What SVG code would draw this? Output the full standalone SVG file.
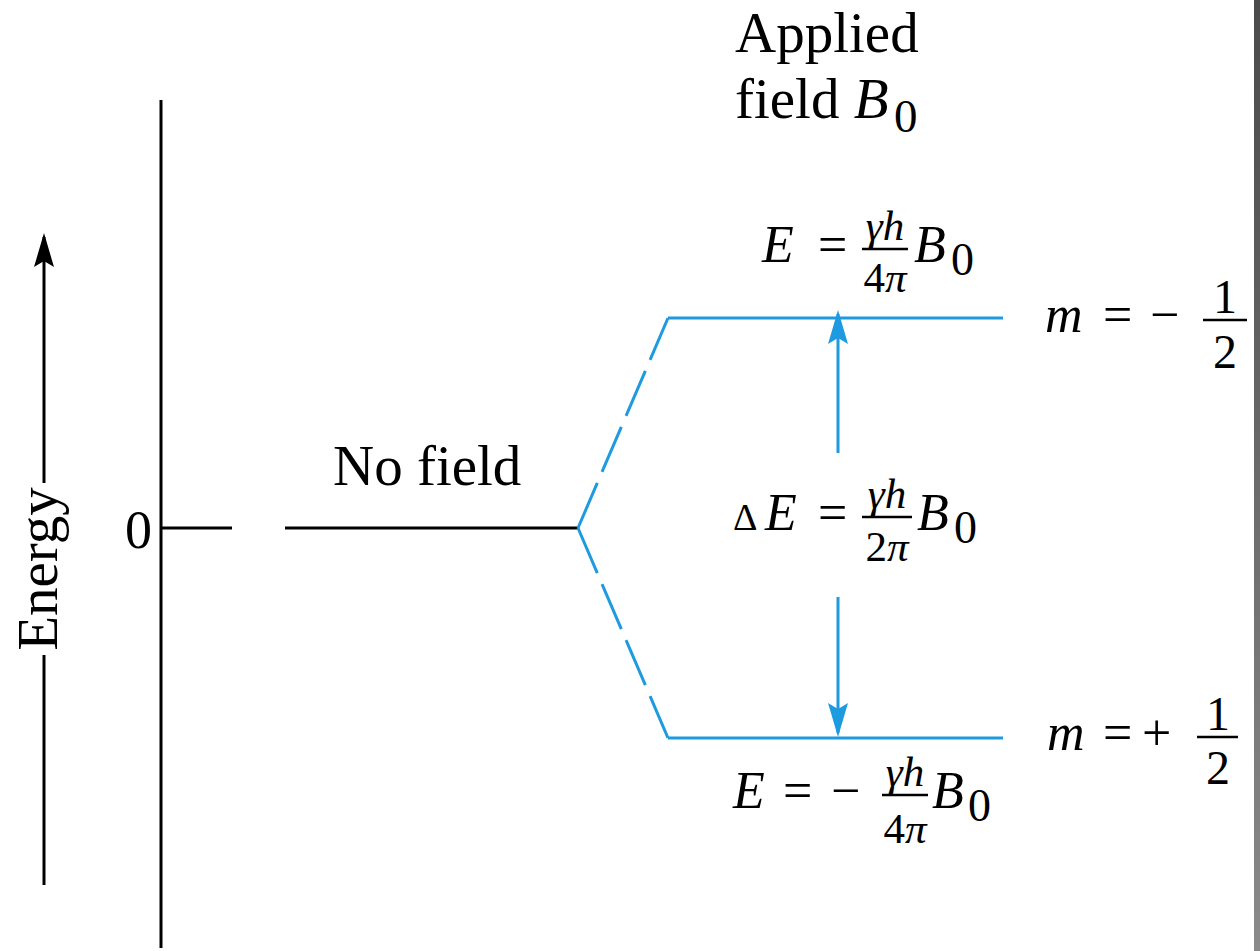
<svg xmlns="http://www.w3.org/2000/svg" width="1260" height="951" viewBox="0 0 1260 951">
<style>
.t{font-family:"Liberation Serif","Times New Roman",serif;fill:#000}
.i{font-style:italic}
.big{font-size:57px}
.eq{font-size:52px}
.fr{font-size:43px}
.sub{font-size:46px}
.blk{stroke:#000;stroke-width:3;fill:none}
.blu{stroke:#1e9be0;stroke-width:3;fill:none}
.bar{stroke:#000;stroke-width:2.5}
</style>
<defs>
<marker id="ah-blue" markerUnits="userSpaceOnUse" markerWidth="40" markerHeight="24" viewBox="-36 -12 40 24" refX="0" refY="0" orient="auto">
<path d="M4,0 L-30,-10 L-24,0 L-30,10 Z" fill="#1e9be0"/>
</marker>
<marker id="ah-black" markerUnits="userSpaceOnUse" markerWidth="40" markerHeight="24" viewBox="-36 -12 40 24" refX="0" refY="0" orient="auto">
<path d="M4,0 L-30,-10 L-24,0 L-30,10 Z" fill="#000"/>
</marker>
<linearGradient id="edge" x1="0" y1="0" x2="0" y2="1">
<stop offset="0" stop-color="#4a4a4a"/>
<stop offset="1" stop-color="#8a8a8a"/>
</linearGradient>
</defs>
<rect x="0" y="0" width="1260" height="951" fill="#fff"/>
<rect x="1254" y="0" width="6" height="951" fill="url(#edge)"/>

<g id="energy-axis">
<line class="blk" x1="44" y1="483" x2="44" y2="237" marker-end="url(#ah-black)"/>
<line class="blk" x1="44" y1="655" x2="44" y2="885"/>
<text class="t big" transform="translate(57,569) rotate(-90)" text-anchor="middle">Energy</text>
</g>

<g id="vertical-axis">
<line class="blk" x1="161" y1="100" x2="161" y2="948"/>
<text class="t" x="125" y="548" font-size="54">0</text>
</g>

<g id="no-field-level">
<line class="blk" x1="161" y1="528" x2="232" y2="528"/>
<line class="blk" x1="285" y1="528" x2="579" y2="528"/>
<text class="t big" x="333" y="485">No field</text>
</g>

<g id="applied-label">
<text class="t big" x="735" y="52">Applied</text>
<text class="t big" x="735" y="118">field <tspan class="i">B</tspan></text>
<text class="t" x="894" y="132" font-size="47">0</text>
</g>

<g id="upper-level">
<line class="blu" x1="668" y1="318" x2="1003" y2="318"/>
</g>
<g id="lower-level">
<line class="blu" x1="668" y1="738" x2="1003" y2="738"/>
</g>

<g id="connectors">
<line class="blu" x1="578" y1="528" x2="668" y2="318" stroke-dasharray="49 12"/>
<line class="blu" x1="578" y1="528" x2="668" y2="738" stroke-dasharray="49 12"/>
<line class="blu" x1="838" y1="453" x2="838" y2="314" marker-end="url(#ah-blue)"/>
<line class="blu" x1="838" y1="597" x2="838" y2="733" marker-end="url(#ah-blue)"/>
</g>

<g id="eq-upper">
<text class="t eq i" x="762" y="262">E</text>
<text class="t eq" x="818" y="262">=</text>
<line class="bar" x1="862" y1="249" x2="908" y2="249"/>
<text class="t fr i" x="885" y="240" text-anchor="middle">γh</text>
<text class="t fr" x="885" y="292" text-anchor="middle">4<tspan class="i">π</tspan></text>
<text class="t eq i" x="914" y="262">B</text>
<text class="t sub" x="951" y="275">0</text>
</g>

<g id="eq-delta">
<text class="t" x="733" y="530" font-size="38">Δ</text>
<text class="t eq i" x="765" y="530">E</text>
<text class="t eq" x="818" y="530">=</text>
<line class="bar" x1="862" y1="517" x2="912" y2="517"/>
<text class="t fr i" x="887" y="508" text-anchor="middle">γh</text>
<text class="t fr" x="887" y="561" text-anchor="middle">2<tspan class="i">π</tspan></text>
<text class="t eq i" x="917" y="530">B</text>
<text class="t sub" x="954" y="543">0</text>
</g>

<g id="eq-lower">
<text class="t eq i" x="733" y="808">E</text>
<text class="t eq" x="783" y="808">=</text>
<text class="t eq" x="831" y="808">−</text>
<line class="bar" x1="882" y1="795" x2="928" y2="795"/>
<text class="t fr i" x="905" y="786" text-anchor="middle">γh</text>
<text class="t fr" x="905" y="843" text-anchor="middle">4<tspan class="i">π</tspan></text>
<text class="t eq i" x="932" y="808">B</text>
<text class="t sub" x="968" y="821">0</text>
</g>

<g id="m-upper">
<text class="t eq i" x="1045" y="332">m</text>
<text class="t eq" x="1103" y="332">=</text>
<text class="t eq" x="1150" y="332">−</text>
<line class="bar" x1="1203" y1="320" x2="1247" y2="320"/>
<text class="t" x="1225" y="313" font-size="48" text-anchor="middle">1</text>
<text class="t" x="1225" y="368" font-size="48" text-anchor="middle">2</text>
</g>

<g id="m-lower">
<text class="t eq i" x="1047" y="750">m</text>
<text class="t eq" x="1103" y="750">=</text>
<text class="t eq" x="1142" y="750">+</text>
<line class="bar" x1="1197" y1="737" x2="1238" y2="737"/>
<text class="t" x="1218" y="730" font-size="48" text-anchor="middle">1</text>
<text class="t" x="1218" y="784" font-size="48" text-anchor="middle">2</text>
</g>
</svg>
